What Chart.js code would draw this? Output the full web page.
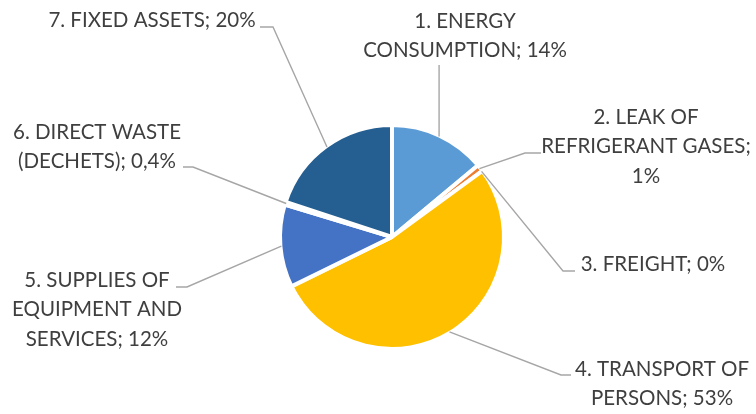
<!DOCTYPE html>
<html>
<head>
<meta charset="utf-8">
<script src="https://cdn.jsdelivr.net/npm/chart.js@4/dist/chart.umd.min.js"></script>
<style>
html, body { margin: 0; padding: 0; background: #fff; }
#wrap { width: 756px; height: 414px; }
</style>
</head>
<body>
<div id="wrap"><canvas id="grafico" width="756" height="414"></canvas></div>
<script>
const categorias = [
    "1. ENERGY CONSUMPTION",
    "2. LEAK OF REFRIGERANT GASES",
    "3. FREIGHT",
    "4. TRANSPORT OF PERSONS",
    "5. SUPPLIES OF EQUIPMENT AND SERVICES",
    "6. DIRECT WASTE (DECHETS)",
    "7. FIXED ASSETS"
];
const percentuais = [14, 1, 0, 53, 12, 0.4, 20];
const cores = ["#5B9BD5", "#ED7D31", "#A5A5A5", "#FFC000", "#4472C4", "#70AD47", "#255E91"];

// where each label sits: text centre, first line, wrap width, leader bends
const rotulos = [
    { x: 465, y: 21, w: 215, guia: [[441, 65]] },
    { x: 646, y: 117, w: 215, guia: [[541, 153], [525, 153]] },
    { x: 653, y: 264, w: 200, guia: [[575, 271], [563, 271]] },
    { x: 662, y: 369, w: 185, guia: [[571, 375], [561, 375]] },
    { x: 97, y: 280, w: 180, guia: [[176, 287], [187, 287]] },
    { x: 97, y: 132, w: 175, guia: [[183, 167], [193, 167]] },
    { x: 152, y: 20, w: 230, guia: [[260, 27], [273, 27]] }
];

const FONTE = "20.5px Lato";
const ALTURA_LINHA = 29.5;

const fmtPct = v => String(v).replace(".", ",") + "%";

function quebrar(ctx, texto, largura) {
    const palavras = texto.split(" ");
    const linhas = [];
    let atual = "";
    palavras.forEach(p => {
        const teste = atual ? atual + " " + p : p;
        if (atual && ctx.measureText(teste).width > largura) {
            linhas.push(atual);
            atual = p;
        } else {
            atual = teste;
        }
    });
    if (atual) linhas.push(atual);
    return linhas;
}

const rotulosPlugin = {
    id: "rotulos",
    afterDatasetsDraw(chart) {
        const ctx = chart.ctx;
        const meta = chart.getDatasetMeta(0);
        ctx.save();
        ctx.font = FONTE;
        meta.data.forEach((arco, i) => {
            const { x, y, startAngle, endAngle, outerRadius } = arco.getProps(["x", "y", "startAngle", "endAngle", "outerRadius"], true);
            const meio = (startAngle + endAngle) / 2;
            const r = outerRadius - 1;
            const ax = x + Math.cos(meio) * r;
            const ay = y + Math.sin(meio) * r;
            const cfg = rotulos[i];

            // leader line
            ctx.strokeStyle = "#A6A6A6";
            ctx.lineWidth = 1.4;
            ctx.beginPath();
            if (i === 0) {
                ctx.moveTo(ax, cfg.guia[0][1]);
            } else {
                ctx.moveTo(cfg.guia[0][0], cfg.guia[0][1]);
                cfg.guia.slice(1).forEach(p => ctx.lineTo(p[0], p[1]));
            }
            ctx.lineTo(ax, ay);
            ctx.stroke();

            // text
            const linhas = quebrar(ctx, categorias[i] + "; " + fmtPct(percentuais[i]), cfg.w);
            ctx.fillStyle = "#3F3F3F";
            ctx.textAlign = "center";
            ctx.textBaseline = "middle";
            linhas.forEach((l, k) => ctx.fillText(l, cfg.x, cfg.y + k * ALTURA_LINHA));
        });
        ctx.restore();
    }
};

new Chart(document.getElementById("grafico"), {
    type: "pie",
    data: {
        labels: categorias,
        datasets: [{
            data: percentuais,
            backgroundColor: cores,
            borderColor: "#ffffff",
            borderWidth: 4
        }]
    },
    options: {
        responsive: false,
        animation: false,
        radius: 112,
        layout: { padding: { top: 127, bottom: 67, left: 282, right: 254 } },
        plugins: {
            legend: { display: false },
            tooltip: { enabled: false }
        }
    },
    plugins: [rotulosPlugin]
});
</script>
</body>
</html>
